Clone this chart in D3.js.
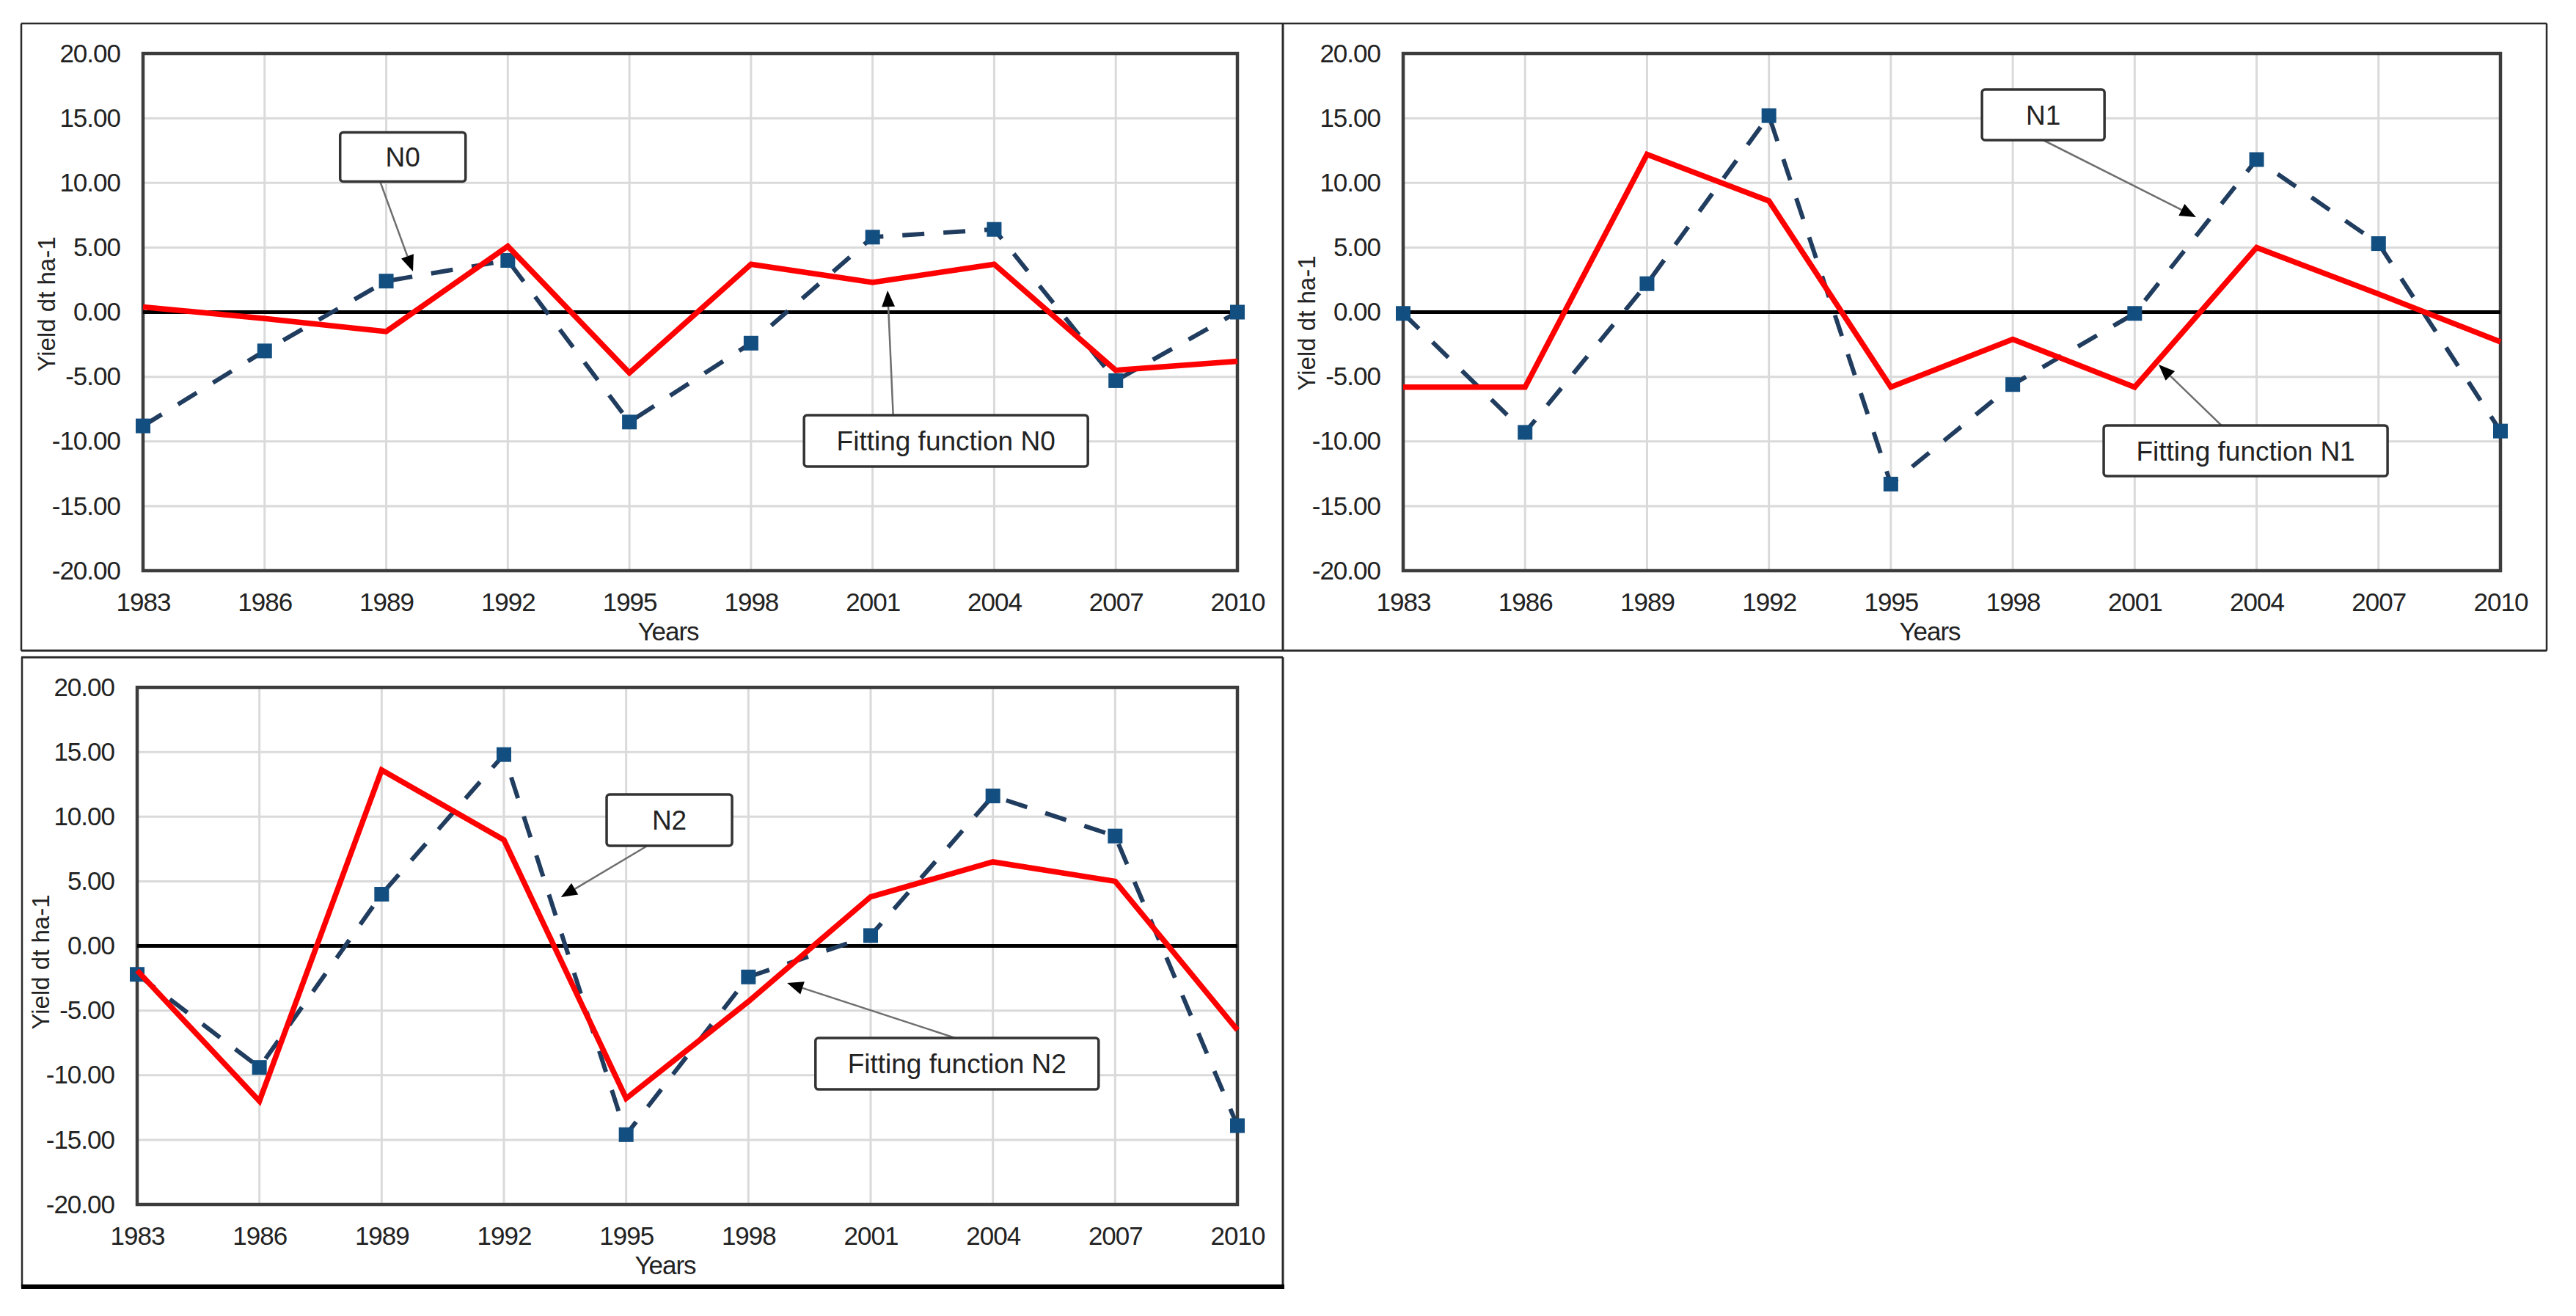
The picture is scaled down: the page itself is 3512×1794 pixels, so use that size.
<!DOCTYPE html>
<html><head><meta charset="utf-8">
<script src="https://cdn.jsdelivr.net/npm/d3@7"></script>
<style>html,body{margin:0;padding:0;background:#fff}svg{display:block}</style>
</head><body>
<svg id="c" width="3512" height="1794"></svg>
<script>
// ---------- data ----------
const years = [1983, 1986, 1989, 1992, 1995, 1998, 2001, 2004, 2007, 2010];
const yTicks = [-20, -15, -10, -5, 0, 5, 10, 15, 20];
const measuredN0 = [-8.8, -3.0, 2.4, 4.0, -8.5, -2.4, 5.8, 6.4, -5.3, 0.0];
const fittedN0   = [0.4, -0.5, -1.5, 5.1, -4.7, 3.7, 2.3, 3.7, -4.5, -3.8];
const measuredN1 = [-0.1, -9.3, 2.2, 15.2, -13.3, -5.6, -0.1, 11.8, 5.3, -9.2];
const fittedN1   = [-5.8, -5.8, 12.2, 8.6, -5.8, -2.1, -5.8, 5.0, 1.4, -2.3];
const measuredN2 = [-2.2, -9.4, 4.0, 14.8, -14.6, -2.4, 0.8, 11.6, 8.5, -13.9];
const fittedN2   = [-1.9, -12.0, 13.6, 8.2, -11.8, -4.3, 3.8, 6.5, 5.0, -6.5];
const seriesLabels = ["N0", "N1", "N2"];
const fitLabels = ["Fitting function N0", "Fitting function N1", "Fitting function N2"];
const xTitle = "Years";
const yTitle = "Yield dt ha-1";

// ---------- layout ----------
const FONT = "'Liberation Sans', Arial, Helvetica, sans-serif";
const panels = [
  { plot: [195, 73, 1687, 778], meas: measuredN0, fit: fittedN0, idx: 0, yTitleDy: -11,
    ann: [
      { type: "s", box: [1989.41, 12.0], w: 171, h: 67, dx: -31, side: "bottom", tip: [1989.66, 3.15] },
      { type: "f", box: [2002.81, -9.96], w: 387, h: 70, dx: -72, side: "top", tip: [2001.37, 1.67] }
    ] },
  { plot: [1913, 73, 3409, 778], meas: measuredN1, fit: fittedN1, idx: 1, yTitleDy: 15,
    ann: [
      { type: "s", box: [1998.75, 15.26], w: 167, h: 69, dx: 0, side: "bottom", tip: [2002.51, 7.35] },
      { type: "f", box: [2003.73, -10.72], w: 387, h: 69, dx: -33, side: "top", tip: [2001.59, -4.06] }
    ] },
  { plot: [187, 937, 1687, 1642], meas: measuredN2, fit: fittedN2, idx: 2, yTitleDy: 22,
    ann: [
      { type: "s", box: [1996.06, 9.73], w: 171, h: 70, dx: -30, side: "bottom", tip: [1993.40, 3.77] },
      { type: "f", box: [2003.12, -9.11], w: 386, h: 70, dx: -2, side: "top", tip: [1998.95, -2.87] }
    ] }
];

const svg = d3.select("#c");

// ---------- frames ----------
const frame = svg.append("g").attr("fill", "none").attr("stroke", "#2a2a2a");
frame.append("line").attr("x1", 29).attr("y1", 32).attr("x2", 3472).attr("y2", 32).attr("stroke-width", 2.5);
frame.append("line").attr("x1", 29).attr("y1", 887).attr("x2", 3472).attr("y2", 887).attr("stroke-width", 3);
frame.append("line").attr("x1", 29).attr("y1", 32).attr("x2", 29).attr("y2", 887).attr("stroke-width", 2.5);
frame.append("line").attr("x1", 1749).attr("y1", 32).attr("x2", 1749).attr("y2", 887).attr("stroke-width", 3);
frame.append("line").attr("x1", 3472).attr("y1", 32).attr("x2", 3472).attr("y2", 887).attr("stroke-width", 2.5);
// third panel frame
frame.append("line").attr("x1", 29).attr("y1", 896).attr("x2", 1749).attr("y2", 896).attr("stroke-width", 3);
frame.append("line").attr("x1", 30).attr("y1", 896).attr("x2", 30).attr("y2", 1755).attr("stroke-width", 2.5);
frame.append("line").attr("x1", 1749).attr("y1", 896).attr("x2", 1749).attr("y2", 1755).attr("stroke-width", 3);
frame.append("line").attr("x1", 29).attr("y1", 1754).attr("x2", 1751).attr("y2", 1754).attr("stroke-width", 6).attr("stroke", "#000");

// ---------- panels ----------
panels.forEach(p => {
  const [L, T, R, B] = p.plot;
  const x = d3.scaleLinear().domain([years[0], years[years.length - 1]]).range([L, R]);
  const y = d3.scaleLinear().domain([yTicks[0], yTicks[yTicks.length - 1]]).range([B, T]);
  const g = svg.append("g");

  // gridlines
  g.append("g").selectAll("line").data(years).join("line")
    .attr("x1", d => x(d)).attr("x2", d => x(d)).attr("y1", T).attr("y2", B)
    .attr("stroke", "#dadada").attr("stroke-width", 3);
  g.append("g").selectAll("line").data(yTicks).join("line")
    .attr("x1", L).attr("x2", R).attr("y1", d => y(d)).attr("y2", d => y(d))
    .attr("stroke", "#dadada").attr("stroke-width", 3);

  // plot border
  g.append("rect").attr("x", L).attr("y", T).attr("width", R - L).attr("height", B - T)
    .attr("fill", "none").attr("stroke", "#3c3c3c").attr("stroke-width", 4.5);

  // zero line
  g.append("line").attr("x1", L).attr("x2", R).attr("y1", y(0)).attr("y2", y(0))
    .attr("stroke", "#000").attr("stroke-width", 5);

  // axes
  const ya = g.append("g").attr("transform", `translate(${L},0)`)
    .call(d3.axisLeft(y).tickValues(yTicks).tickFormat(d => d.toFixed(2)).tickSize(0).tickPadding(31));
  const xa = g.append("g").attr("transform", `translate(0,${B})`)
    .call(d3.axisBottom(x).tickValues(years).tickFormat(d => String(d)).tickSize(0).tickPadding(30));
  [ya, xa].forEach(a => {
    a.select(".domain").remove();
    a.selectAll("text").attr("font-family", FONT).attr("font-size", 35)
      .attr("letter-spacing", -1).attr("fill", "#222");
  });

  // axis titles
  g.append("text").attr("x", (L + R) / 2 - 30).attr("y", B + 95)
    .attr("text-anchor", "middle").attr("font-family", FONT).attr("font-size", 35)
    .attr("letter-spacing", -1).attr("fill", "#222").text(xTitle);
  g.append("text")
    .attr("transform", `translate(${L - 132},${(T + B) / 2 + p.yTitleDy}) rotate(-90)`)
    .attr("text-anchor", "middle").attr("dominant-baseline", "central")
    .attr("font-family", FONT).attr("font-size", 33).attr("fill", "#222").text(yTitle);

  // measured series (dashed with square markers)
  const line = d3.line().x((d, i) => x(years[i])).y(d => y(d));
  g.append("path").datum(p.meas).attr("d", line)
    .attr("fill", "none").attr("stroke", "#203c5e").attr("stroke-width", 6)
    .attr("stroke-dasharray", "30,26").attr("stroke-linecap", "butt");
  const ms = 20;
  g.append("g").selectAll("rect").data(p.meas).join("rect")
    .attr("x", (d, i) => x(years[i]) - ms / 2).attr("y", d => y(d) - ms / 2)
    .attr("width", ms).attr("height", ms).attr("fill", "#124e80");

  // fitted series
  g.append("path").datum(p.fit).attr("d", line)
    .attr("fill", "none").attr("stroke", "#ff0000").attr("stroke-width", 7.5)
    .attr("stroke-linejoin", "miter");

  // callouts
  p.ann.forEach(a => {
    const cx = x(a.box[0]), cy = y(a.box[1]);
    const sx = cx + a.dx, sy = a.side === "bottom" ? cy + a.h / 2 : cy - a.h / 2;
    const tx = x(a.tip[0]), ty = y(a.tip[1]);
    const ang = Math.atan2(ty - sy, tx - sx);
    const hl = 22, hw = 9;
    const bx = tx - hl * Math.cos(ang), by = ty - hl * Math.sin(ang);
    g.append("line").attr("x1", sx).attr("y1", sy).attr("x2", bx).attr("y2", by)
      .attr("stroke", "#6e6e6e").attr("stroke-width", 2.5);
    const pts = [[tx, ty],
      [bx + hw * Math.sin(ang), by - hw * Math.cos(ang)],
      [bx - hw * Math.sin(ang), by + hw * Math.cos(ang)]];
    g.append("polygon").attr("points", pts.map(q => q.join(",")).join(" ")).attr("fill", "#000");
    g.append("rect").attr("x", cx - a.w / 2).attr("y", cy - a.h / 2)
      .attr("width", a.w).attr("height", a.h).attr("rx", 4)
      .attr("fill", "#fff").attr("stroke", "#333").attr("stroke-width", 3.5);
    g.append("text").attr("x", cx).attr("y", cy).attr("dy", "0.36em")
      .attr("text-anchor", "middle").attr("font-family", FONT).attr("font-size", 37)
      .attr("fill", "#222").text(a.type === "s" ? seriesLabels[p.idx] : fitLabels[p.idx]);
  });
});
</script>
</body></html>
